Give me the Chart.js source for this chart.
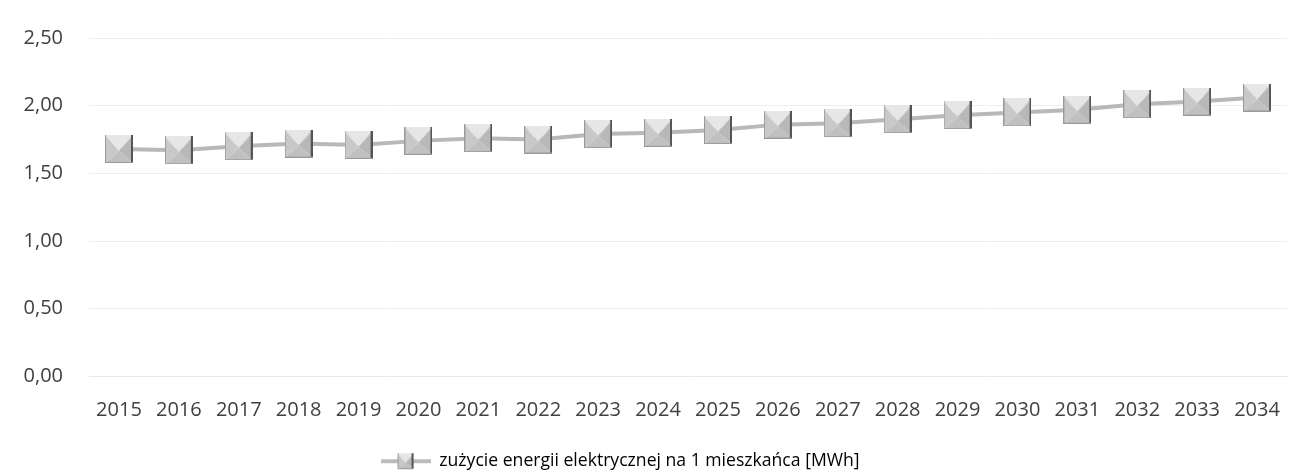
<!DOCTYPE html>
<html>
<head>
<meta charset="utf-8">
<script src="https://cdn.jsdelivr.net/npm/chart.js@4"></script>
<style>
  html, body { margin: 0; padding: 0; background: #fff; }
  #wrap { width: 1305px; height: 474px; }
</style>
</head>
<body>
<div id="wrap"><canvas id="myChart" width="1305" height="474"></canvas></div>
<script>
// data
var years = ['2015', '2016', '2017', '2018', '2019', '2020', '2021', '2022', '2023', '2024',
  '2025', '2026', '2027', '2028', '2029', '2030', '2031', '2032', '2033', '2034'];
var usage = [1.68, 1.67, 1.70, 1.72, 1.71, 1.74, 1.76, 1.75, 1.79, 1.80,
  1.82, 1.86, 1.87, 1.90, 1.93, 1.95, 1.97, 2.01, 2.03, 2.06];
var seriesName = 'zużycie energii elektrycznej na 1 mieszkańca [MWh]';

// pyramid-looking square marker, like the Excel one
function makeMarker(size) {
  var c = document.createElement('canvas');
  c.width = size; c.height = size;
  var g = c.getContext('2d');
  var m = size / 2;
  function tri(ax, ay, bx, by, col) {
    g.beginPath();
    g.moveTo(ax, ay); g.lineTo(bx, by); g.lineTo(m, m + 2);
    g.closePath();
    g.fillStyle = col;
    g.fill();
  }
  tri(0, 0, size, 0, '#e6e6e6');
  tri(0, 0, 0, size, '#c8c8c8');
  tri(size, 0, size, size, '#b8b8b8');
  tri(0, size, size, size, '#c0c0c0');
  g.fillStyle = '#555';
  g.fillRect(size - 2, 0, 2, size);
  g.fillStyle = '#999';
  g.fillRect(0, 0, 1, size);
  g.fillRect(0, size - 1, size, 1);
  return c;
}

var marker = makeMarker(28);

// legend symbol: line with a small marker in the middle
var legendIcon = document.createElement('canvas');
legendIcon.width = 50; legendIcon.height = 18;
(function () {
  var g = legendIcon.getContext('2d');
  g.fillStyle = '#bcbcbc';
  g.fillRect(0, 7, 50, 4);
  g.drawImage(makeMarker(16), 17, 1);
})();

// legend in the original sits a bit left of the page centre
var shiftLegend = {
  id: 'shiftLegend',
  afterLayout: function (chart) {
    if (chart.legend) chart.legend.right -= 82;
  }
};

const ctx = document.getElementById('myChart');
const myChart = new Chart(ctx, {
  type: 'line',
  data: {
    labels: years,
    datasets: [{
      label: seriesName,
      data: usage,
      borderColor: '#b8b8b8',
      borderWidth: 4,
      pointStyle: marker,
      pointRadius: 14,
      pointHoverRadius: 14,
      tension: 0
    }]
  },
  options: {
    responsive: false,
    animation: false,
    layout: { padding: { left: 20, right: 3, top: 26, bottom: -6 } },
    scales: {
      x: {
        offset: true,
        afterFit: function (scale) { scale.height += 9; },
        grid: { display: false },
        border: { display: true, color: '#e8e8e8' },
        ticks: {
          color: '#404040',
          font: { family: 'Open Sans', size: 20 },
          padding: 14,
          maxRotation: 0,
          autoSkip: false
        }
      },
      y: {
        min: 0,
        max: 2.5,
        afterFit: function (scale) { scale.width = 69; },
        grid: { color: '#eeeeee', drawTicks: false },
        border: { display: false },
        ticks: {
          stepSize: 0.5,
          padding: 26,
          color: '#404040',
          font: { family: 'Open Sans', size: 20 },
          callback: function (v) { return v.toFixed(2).replace('.', ','); }
        }
      }
    },
    plugins: {
      tooltip: { enabled: false },
      legend: {
        position: 'bottom',
        labels: {
          color: '#404040',
          font: { family: 'Open Sans', size: 17.6 },
          usePointStyle: true,
          pointStyleWidth: 50,
          boxHeight: 18,
          padding: 7,
          generateLabels: function (chart) {
            return [{
              text: seriesName,
              pointStyle: legendIcon,
              fillStyle: '#b8b8b8',
              strokeStyle: '#b8b8b8',
              lineWidth: 0,
              datasetIndex: 0
            }];
          }
        }
      }
    }
  },
  plugins: [shiftLegend]
});
</script>
</body>
</html>
